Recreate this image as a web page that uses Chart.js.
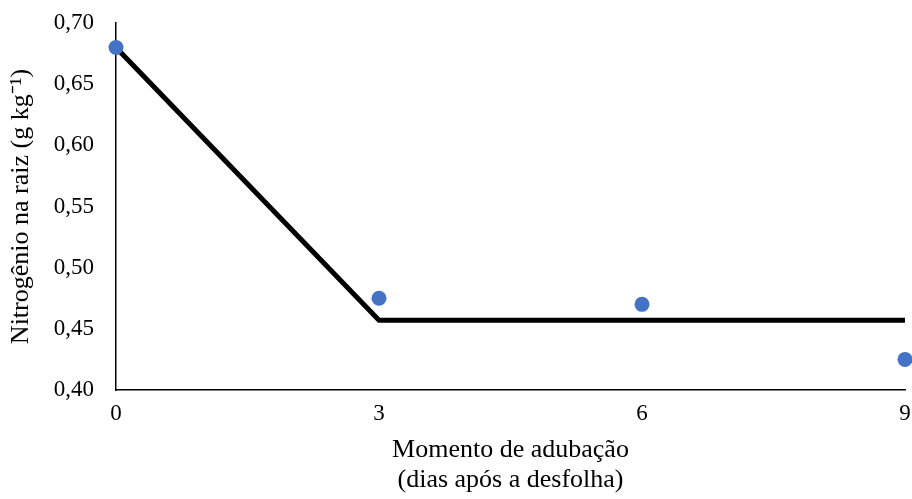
<!DOCTYPE html>
<html>
<head>
<meta charset="utf-8">
<script src="https://cdn.jsdelivr.net/npm/chart.js@4"></script>
<style>
  html, body { margin: 0; padding: 0; background: #fff; }
  #wrap { width: 912px; height: 499px; position: relative; }
</style>
</head>
<body>
<div id="wrap"><canvas id="nChart"></canvas></div>
<script>
// observed values
const days = [0, 3, 6, 9];
const nitrogen = [0.68, 0.475, 0.47, 0.425];
// fitted plateau model
const fitDays = [0, 3, 9];
const fitN = [0.68, 0.457, 0.457];

const xTicks = [0, 3, 6, 9];

const serif = 'Liberation Serif, Times New Roman, serif';

// drop the extra room chart.js leaves for edge tick labels
function noEdgePad(axis) {
  axis.paddingTop = 0;
  axis.paddingBottom = 0;
  axis.paddingLeft = 0;
  axis.paddingRight = 0;
}

new Chart(document.getElementById('nChart'), {
  type: 'scatter',
  data: {
    datasets: [{
      label: 'Observado',
      data: days.map((d, i) => ({ x: d, y: nitrogen[i] })),
      backgroundColor: '#4472C4',
      borderWidth: 0,
      pointRadius: 7.5,
      clip: false
    }, {
      label: 'Ajuste',
      data: fitDays.map((d, i) => ({ x: d, y: fitN[i] })),
      showLine: true,
      borderColor: '#000',
      borderWidth: 5,
      pointRadius: 0,
      fill: false,
      clip: false
    }]
  },
  options: {
    responsive: true,
    maintainAspectRatio: false,
    animation: false,
    layout: { autoPadding: false, padding: { top: 23, right: 7, left: 0, bottom: 0 } },
    plugins: {
      legend: { display: false },
      tooltip: { enabled: false }
    },
    scales: {
      x: {
        type: 'linear',
        min: 0,
        max: 9,
        afterBuildTicks: axis => { axis.ticks = xTicks.map(v => ({ value: v })); },
        afterFit: axis => { axis.height = 109; noEdgePad(axis); },
        grid: { display: false, drawTicks: false },
        border: { color: '#000', width: 1.5 },
        ticks: { color: '#000', padding: 10, font: { family: serif, size: 23 } },
        title: {
          display: true,
          text: ['Momento de adubação', '(dias após a desfolha)'],
          color: '#000',
          font: { family: serif, size: 26, lineHeight: 1.15 },
          padding: { top: 8, bottom: 4 }
        }
      },
      y: {
        min: 0.40,
        max: 0.70,
        afterFit: axis => { axis.width = 116; noEdgePad(axis); },
        grid: { display: false, drawTicks: false },
        border: { color: '#000', width: 1.5 },
        ticks: {
          stepSize: 0.05,
          color: '#000',
          padding: 22,
          font: { family: serif, size: 23 },
          callback: v => v.toFixed(2).replace('.', ',')
        },
        title: {
          display: true,
          text: 'Nitrogênio na raiz (g kg⁻¹)',
          color: '#000',
          font: { family: serif, size: 26 },
          padding: { top: 6, bottom: 0 }
        }
      }
    }
  }
});
</script>
</body>
</html>
